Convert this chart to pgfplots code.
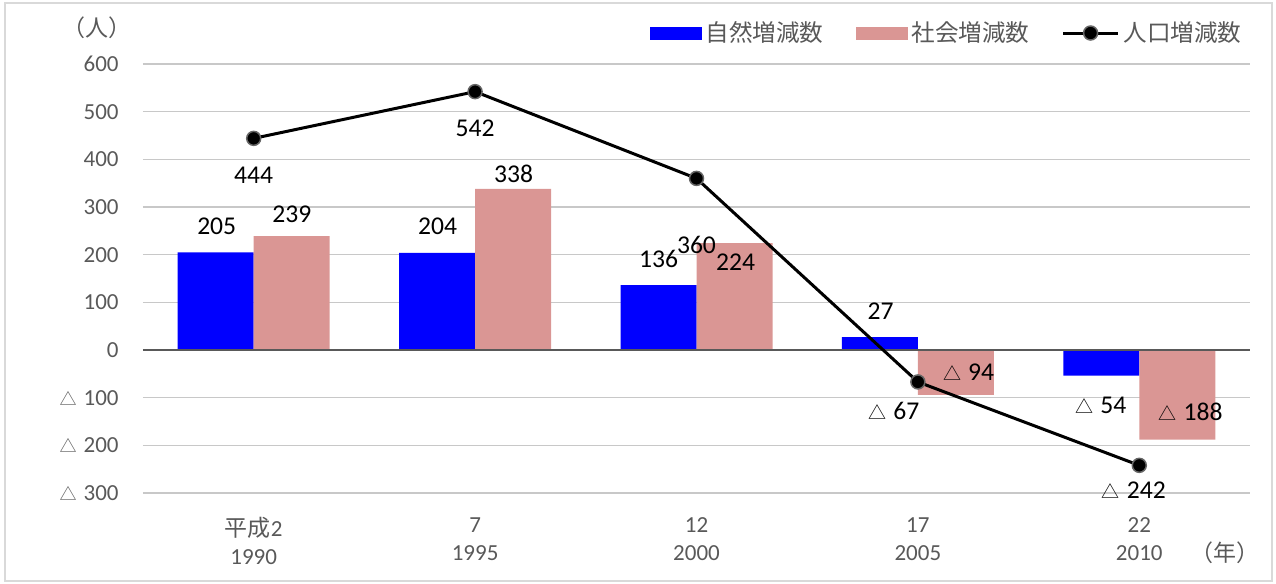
\documentclass[border=0pt]{standalone}
\usepackage{pgfplots}
\pgfplotsset{compat=1.18}
\usepackage{fontspec}
\setmainfont{Carlito}
\newfontfamily\jp{Noto Sans CJK JP}
\definecolor{txt}{HTML}{595959}
\definecolor{pinkbar}{HTML}{DA9694}
\definecolor{gridc}{HTML}{C8C8C8}
\newcommand{\tri}{{\jp\fontsize{8.5}{9}\selectfont △}\hspace{3.5pt}}
\newcommand{\trib}{{\jp\fontsize{9}{9}\selectfont △}\hspace{3.5pt}}
\begin{document}
\begin{tikzpicture}
\useasboundingbox (0,0) rectangle (638pt,292pt);
\draw[color=black!15, line width=0.75pt] (2.5pt,1.5pt) rectangle (636pt,290.5pt);
\begin{axis}[
  at={(71.5pt,45.5pt)}, anchor=south west,
  scale only axis, width=553.5pt, height=214.5pt,
  xmin=-0.5, xmax=4.5, ymin=-300, ymax=600,
  axis line style={draw=none},
  major tick length=0pt,
  ytick={-300,-200,...,600},
  yticklabels={\tri 300,\tri 200,\tri 100,0,100,200,300,400,500,600},
  xtick={0,1,2,3,4},
  xticklabels={{{\jp 平成}2\\1990},{7\\1995},{12\\2000},{17\\2005},{22\\2010}},
  ymajorgrids, grid style={draw=gridc, line width=0.75pt},
  y tick label style={font=\fontsize{11.5}{14}\selectfont, text=txt, inner sep=0pt, xshift=-12pt},
  x tick label style={font=\fontsize{11.5}{14}\selectfont, text=txt, inner sep=0pt, yshift=-12pt, align=center},
  legend style={at={(rel axis cs:1,1)}, anchor=east, yshift=15.5pt, xshift=-2pt,
    draw=none, fill=none, inner sep=0pt, font=\fontsize{11.8}{14}\selectfont\jp, text=txt,
    legend columns=3, /tikz/every even column/.append style={column sep=14pt}},
  legend cell align=left,
]
\addplot[ybar, bar shift=-19pt, bar width=38pt, fill=blue, draw=none,
  legend image code/.code={\fill[blue] (-2pt,-3.25pt) rectangle (24pt,3.25pt);}]
  coordinates {(0,205) (1,204) (2,136) (3,27) (4,-54)};
\addlegendentry{自然増減数}
\addplot[ybar, bar shift=19pt, bar width=38pt, fill=pinkbar, draw=none,
  legend image code/.code={\fill[pinkbar] (0pt,-3.25pt) rectangle (26pt,3.25pt);}]
  coordinates {(0,239) (1,338) (2,224) (3,-94) (4,-188)};
\addlegendentry{社会増減数}
\draw[draw=txt, line width=0.75pt] (axis cs:-0.5,0) -- (axis cs:4.5,0);
\addplot[black, line width=1.5pt, mark=*, mark size=3.5pt,
  mark options={fill=black, draw=black!60, line width=0.75pt},
  legend image code/.code={\draw[black, line width=1.5pt] (0pt,0pt) -- (27.5pt,0pt); \filldraw[fill=black, draw=black!60, line width=0.75pt] (13.75pt,0pt) circle (3.5pt);}]
  coordinates {(0,444) (1,542) (2,360) (3,-67) (4,-242)};
\addlegendentry{人口増減数}
\addplot[only marks, mark=none, forget plot, point meta=explicit symbolic,
  nodes near coords, every node near coord/.append style={anchor=center, text=black, font=\fontsize{12.8}{14}\selectfont}]
  coordinates {
  (-0.167,260) [205] (0.172,285) [239]
  (0.831,260) [204] (1.174,369) [338]
  (1.829,190) [136] (2.177,185) [224]
  (2.832,82) [27] (3.229,-46) [\trib 94]
  (3.826,-117) [\trib 54] (4.232,-130) [\trib 188]
  (0,367) [444] (1,466) [542] (2,220) [360]
  (2.891,-128) [\trib 67] (3.975,-294) [\trib 242]
  };
\end{axis}
\node[text=txt, font=\fontsize{11.5}{14}\selectfont\jp] at (48.5pt,278pt) {（人）};
\node[text=txt, font=\fontsize{11.5}{14}\selectfont\jp] at (612.5pt,15.5pt) {（年）};
\end{tikzpicture}
\end{document}
